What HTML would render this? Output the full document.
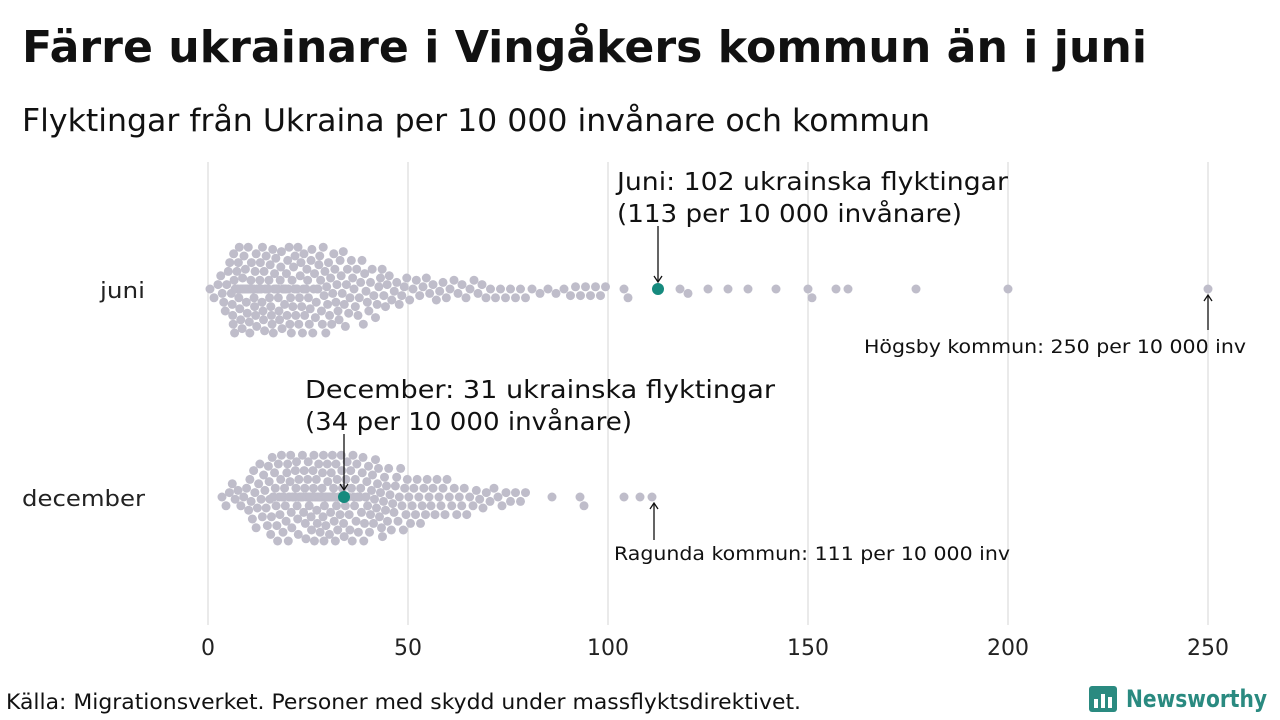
<!DOCTYPE html>
<html><head><meta charset="utf-8"><style>
body{margin:0;width:1280px;height:720px;background:#fff;overflow:hidden;font-family:"Liberation Sans","DejaVu Sans",sans-serif;color:#111}
svg{position:absolute;left:0;top:0}
</style></head><body>
<svg id="s" width="1280" height="720" xmlns="http://www.w3.org/2000/svg" font-family="'DejaVu Sans','Liberation Sans',sans-serif">
<text x="22" y="62" font-size="44" font-weight="bold" fill="#111" textLength="1125" lengthAdjust="spacingAndGlyphs">Färre ukrainare i Vingåkers kommun än i juni</text>
<text x="22" y="131" font-size="31" fill="#111" textLength="908" lengthAdjust="spacingAndGlyphs">Flyktingar från Ukraina per 10 000 invånare och kommun</text>
<g stroke="#d6d6d6" stroke-width="1">
<line x1="208" y1="162" x2="208" y2="625"/><line x1="408" y1="162" x2="408" y2="625"/><line x1="608" y1="162" x2="608" y2="625"/><line x1="808" y1="162" x2="808" y2="625"/><line x1="1008" y1="162" x2="1008" y2="625"/><line x1="1208" y1="162" x2="1208" y2="625"/>
</g>
<g font-size="22" fill="#222" text-anchor="middle">
<text x="208" y="655">0</text><text x="408" y="655">50</text><text x="608" y="655">100</text><text x="808" y="655">150</text><text x="1008" y="655">200</text><text x="1208" y="655">250</text>
</g>
<g font-size="22" fill="#222">
<text x="100" y="298" textLength="45" lengthAdjust="spacingAndGlyphs">juni</text><text x="22" y="506" textLength="123" lengthAdjust="spacingAndGlyphs">december</text>
</g>
<g id="dots"></g>
<g font-size="25" fill="#111">
<text x="617" y="190" textLength="391" lengthAdjust="spacingAndGlyphs">Juni: 102 ukrainska flyktingar</text>
<text x="617" y="222" textLength="345" lengthAdjust="spacingAndGlyphs">(113 per 10 000 invånare)</text>
<text x="305" y="398" textLength="470" lengthAdjust="spacingAndGlyphs">December:  31 ukrainska flyktingar</text>
<text x="305" y="430" textLength="327" lengthAdjust="spacingAndGlyphs">(34 per 10 000 invånare)</text>
</g>
<g stroke="#111" stroke-width="1.3" fill="none">
<line x1="658" y1="226" x2="658" y2="281"/><path d="M654,276 L658,282 L662,276"/>
<line x1="344" y1="434" x2="344" y2="489"/><path d="M340,484 L344,490 L348,484"/>
<line x1="1208" y1="330" x2="1208" y2="296"/><path d="M1204,301 L1208,295 L1212,301"/>
<line x1="654" y1="540" x2="654" y2="504"/><path d="M650,509 L654,503 L658,509"/>
</g>
<g font-size="19" fill="#111">
<text x="864" y="353" textLength="382" lengthAdjust="spacingAndGlyphs">Högsby kommun: 250 per 10 000 inv</text>
<text x="614" y="560" textLength="396" lengthAdjust="spacingAndGlyphs">Ragunda kommun: 111 per 10 000 inv</text>
</g>
<text x="6" y="709" font-size="21" fill="#111" textLength="795" lengthAdjust="spacingAndGlyphs">Källa: Migrationsverket. Personer med skydd under massflyktsdirektivet.</text>
<g>
<rect x="1089" y="686" width="28" height="26" rx="3" fill="#2a8a80"/>
<rect x="1094" y="699" width="4" height="9" fill="#fff"/><rect x="1101" y="694" width="4" height="14" fill="#fff"/><rect x="1108" y="697" width="4" height="11" fill="#fff"/>
<text x="1126" y="707" font-size="24" font-weight="bold" fill="#2a8a80" textLength="141" lengthAdjust="spacingAndGlyphs">Newsworthy</text>
</g>
</svg>
<script>
function gen(bins){var v=[];bins.forEach(function(b){for(var i=0;i<b[2];i++){v.push(b[0]+(b[1]-b[0])*(i+0.5)/b[2]);}});return v;}
var juni=gen([[0,3,3],[3,6,8],[6,10,34],[10,15,38],[15,20,32],[20,25,27],[25,30,23],[30,35,19],[35,40,15],[40,45,12],[45,50,8],[50,60,12],[60,70,10],[70,80,8],[80,90,5],[90,100,8]]).concat([104,105,118,120,125,130,135,142,150,151,157,160,177,200,250]);
var dec=gen([[3,5,2],[5,10,7],[10,15,16],[15,20,26],[20,25,34],[25,30,42],[30,35,34],[35,40,26],[40,45,20],[45,50,15],[50,55,12],[55,60,10],[60,65,8],[65,70,6],[70,75,5],[75,80,4]]).concat([86,93,94,104,108,111]);
var ns="http://www.w3.org/2000/svg",g=document.getElementById('dots'),r=4.5,d=2*r;
function swarm(vals,cy){var placed=[];vals.sort(function(a,b){return a-b});vals.forEach(function(v){var x=208+v*4,best=0;
 for(var k=0;k<40;k++){var off=(k%2?1:-1)*Math.ceil(k/2)*2.2;var ok=true;
  for(var j=placed.length-1;j>=0;j--){var p=placed[j];if(x-p[0]>d)break;var dx=x-p[0],dy=off-p[1];if(dx*dx+dy*dy<d*d*0.9){ok=false;break;}}
  if(ok){best=off;break;}}
 placed.push([x,best]);var c=document.createElementNS(ns,'circle');c.setAttribute('cx',x);c.setAttribute('cy',cy+best);c.setAttribute('r',r);c.setAttribute('fill','#bfbdca');g.appendChild(c);});}
swarm(juni,289);swarm(dec,497);
[[658,289],[344,497]].forEach(function(p){var c=document.createElementNS(ns,'circle');c.setAttribute('cx',p[0]);c.setAttribute('cy',p[1]);c.setAttribute('r',6);c.setAttribute('fill','#168a7e');g.appendChild(c);});
</script>
</body></html>
